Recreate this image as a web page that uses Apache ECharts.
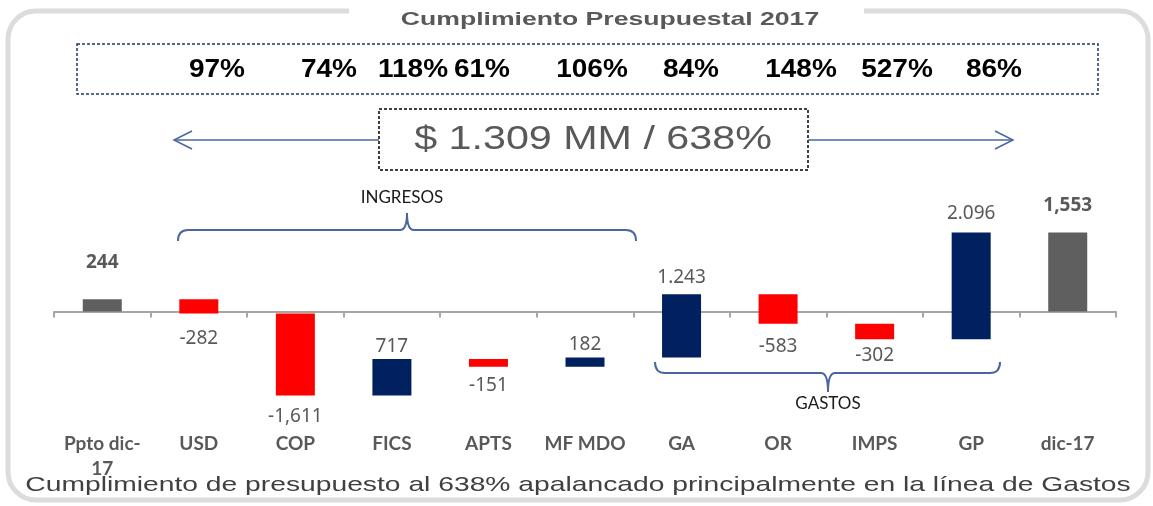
<!DOCTYPE html>
<html>
<head>
<meta charset="utf-8">
<script src="https://cdn.jsdelivr.net/npm/echarts@6/dist/echarts.min.js"></script>
<style>
  html, body { margin: 0; padding: 0; background: #fff; }
  #chart { width: 1153px; height: 506px; }
</style>
</head>
<body>
<div id="chart"></div>
<script>
// datos del grafico
const categories = ['Ppto dic-\n17', 'USD', 'COP', 'FICS', 'APTS', 'MF MDO', 'GA', 'OR', 'IMPS', 'GP', 'dic-17'];
const values = [244, -282, -1611, 717, -151, 182, 1243, -583, -302, 2096, 1553];
const valueLabels = ['244', '-282', '-1,611', '717', '-151', '182', '1.243', '-583', '-302', '2.096', '1,553'];
const isTotal = [true, false, false, false, false, false, false, false, false, false, true];
const cumplimiento = ['97%', '74%', '118%', '61%', '106%', '84%', '148%', '527%', '86%'];
const resumen = '$ 1.309 MM / 638%';
const titulo = 'Cumplimiento Presupuestal 2017';
const nota = 'Cumplimiento de presupuesto al 638% apalancado principalmente en la línea de Gastos';

// estilo / posiciones
const pctX = [217, 329, 413, 482, 592, 691, 801, 897, 994];
const labelGap = [27, 16, 12, 3, 9, 3, 7, 13, 7, 10, 18];

// base invisible + tramo visible (cascada)
let run = 0;
const base = [], size = [];
values.forEach((v, i) => {
  if (isTotal[i]) {
    base.push(0); size.push(v); run = v;
  } else {
    const next = run + v;
    base.push(Math.min(run, next)); size.push(Math.abs(v)); run = next;
  }
});

const colorOf = i => isTotal[i] ? '#5f5f5f' : (values[i] < 0 ? '#ff0000' : '#002060');

const visibleData = size.map((s, i) => ({
  value: s,
  itemStyle: { color: colorOf(i) },
  label: {
    position: values[i] < 0 ? 'bottom' : 'top',
    distance: labelGap[i],
    fontWeight: isTotal[i] ? 'bold' : 'normal'
  }
}));

const blue = '#4a66a0';
const stroke = { fill: 'none', stroke: blue, lineWidth: 2 };

// llave horizontal: extremos doblados hacia "tip", pico en el centro hacia "peak"
function brace(x1, x2, xm, y, tip, peak) {
  return [
    { type: 'bezierCurve', shape: { x1: x1, y1: tip, x2: x1 + 10, y2: y, cpx1: x1, cpy1: y }, style: stroke },
    { type: 'line', shape: { x1: x1 + 10, y1: y, x2: xm - 7, y2: y }, style: stroke },
    { type: 'bezierCurve', shape: { x1: xm - 7, y1: y, x2: xm, y2: peak, cpx1: xm, cpy1: y }, style: stroke },
    { type: 'bezierCurve', shape: { x1: xm, y1: peak, x2: xm + 7, y2: y, cpx1: xm, cpy1: y }, style: stroke },
    { type: 'line', shape: { x1: xm + 7, y1: y, x2: x2 - 10, y2: y }, style: stroke },
    { type: 'bezierCurve', shape: { x1: x2 - 10, y1: y, x2: x2, y2: tip, cpx1: x2, cpy1: y }, style: stroke }
  ];
}

let chart = echarts.init(document.getElementById('chart'));
chart.setOption({
  animation: false,
  grid: { left: 54, right: 37, top: 159, bottom: 81, outerBoundsMode: 'none', containLabel: false },
  xAxis: [
    {
      // eje en cero con marcas
      type: 'category',
      data: categories,
      axisLine: { onZero: true, lineStyle: { color: '#a6a6a6', width: 2 } },
      axisTick: { show: true, length: 6, lineStyle: { color: '#a6a6a6', width: 2 } },
      axisLabel: { show: false }
    },
    {
      // etiquetas de categoria abajo
      type: 'category',
      data: categories,
      position: 'bottom',
      axisLine: { show: false, onZero: false },
      axisTick: { show: false },
      axisLabel: {
        margin: 6,
        color: '#595959',
        fontFamily: 'Lato',
        fontWeight: 'bold',
        fontSize: 19,
        lineHeight: 25,
        interval: 0
      }
    }
  ],
  yAxis: {
    type: 'value',
    min: -2230,
    max: 3000,
    show: false,
    splitLine: { show: false }
  },
  series: [
    {
      type: 'bar',
      stack: 'w',
      stackStrategy: 'all',
      barWidth: 39,
      silent: true,
      itemStyle: { color: 'transparent' },
      data: base
    },
    {
      type: 'bar',
      stack: 'w',
      stackStrategy: 'all',
      barWidth: 39,
      label: {
        show: true,
        color: '#595959',
        fontFamily: 'Noto Sans',
        fontSize: 19,
        formatter: p => valueLabels[p.dataIndex]
      },
      data: visibleData
    }
  ],
  graphic: [
    // marco redondeado
    {
      type: 'rect', z: -10,
      shape: { x: 8, y: 11, width: 1140, height: 489, r: 28 },
      style: { fill: 'none', stroke: '#dcdcdc', lineWidth: 5 }
    },
    {
      type: 'rect', z: -9,
      shape: { x: 349, y: 4, width: 515, height: 14 },
      style: { fill: '#fff' }
    },
    {
      type: 'text', x: 610, y: 20, scaleX: 1.4,
      style: {
        text: titulo, fill: '#595959', font: 'bold 19px "Liberation Sans"',
        textAlign: 'center', textVerticalAlign: 'middle'
      }
    },
    // caja de porcentajes
    {
      type: 'rect',
      shape: { x: 77, y: 44, width: 1021, height: 50 },
      style: { fill: 'none', stroke: '#1f3864', lineWidth: 1.5, lineDash: [3, 2] }
    },
    ...cumplimiento.map((t, i) => ({
      type: 'text', x: pctX[i], y: 70, scaleX: 1.12,
      style: {
        text: t, fill: '#000', font: 'bold 25px "Liberation Sans"',
        textAlign: 'center', textVerticalAlign: 'middle'
      }
    })),
    // caja resumen y flechas
    {
      type: 'rect',
      shape: { x: 379, y: 109, width: 429, height: 61 },
      style: { fill: 'none', stroke: '#000', lineWidth: 1.5, lineDash: [3, 2] }
    },
    {
      type: 'text', x: 593, y: 140, scaleX: 1.25,
      style: {
        text: resumen, fill: '#595959', font: '33px "Liberation Sans"',
        textAlign: 'center', textVerticalAlign: 'middle'
      }
    },
    {
      type: 'polyline',
      shape: { points: [[192, 131], [174, 140], [192, 149]] },
      style: { fill: 'none', stroke: blue, lineWidth: 1.5 }
    },
    {
      type: 'line',
      shape: { x1: 174, y1: 140, x2: 379, y2: 140 },
      style: { stroke: blue, lineWidth: 1.5 }
    },
    {
      type: 'line',
      shape: { x1: 808, y1: 140, x2: 1013, y2: 140 },
      style: { stroke: blue, lineWidth: 1.5 }
    },
    {
      type: 'polyline',
      shape: { points: [[995, 131], [1013, 140], [995, 149]] },
      style: { fill: 'none', stroke: blue, lineWidth: 1.5 }
    },
    // llaves
    ...brace(178, 636, 407, 230, 241, 213),
    {
      type: 'text', x: 402, y: 198,
      style: {
        text: 'INGRESOS', fill: '#1a1a1a', font: '17px Lato',
        textAlign: 'center', textVerticalAlign: 'middle'
      }
    },
    ...brace(655, 1000, 828, 373, 362, 392),
    {
      type: 'text', x: 828, y: 404,
      style: {
        text: 'GASTOS', fill: '#1a1a1a', font: '17px Lato',
        textAlign: 'center', textVerticalAlign: 'middle'
      }
    },
    // nota inferior
    {
      type: 'text', x: 578, y: 485, scaleX: 1.345,
      style: {
        text: nota, fill: '#404040', font: '21px "Liberation Sans"',
        textAlign: 'center', textVerticalAlign: 'middle'
      }
    }
  ]
});
</script>
</body>
</html>
